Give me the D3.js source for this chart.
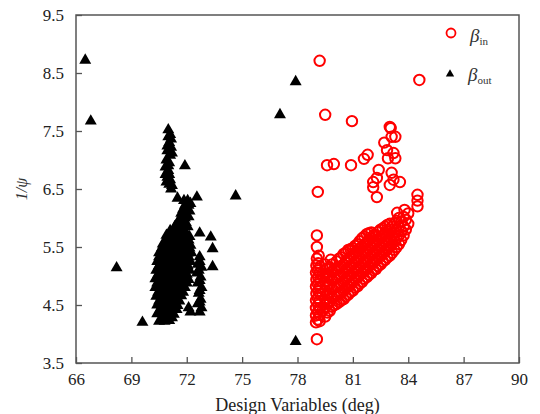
<!DOCTYPE html>
<html>
<head>
<meta charset="utf-8">
<script src="https://cdn.jsdelivr.net/npm/d3@7"></script>
<style>
  body { margin: 0; background: #fff; }
  svg { display: block; font-family: "Liberation Serif", "Times New Roman", serif; }
</style>
</head>
<body>
<script>
// tick values
var xTicks = [66, 69, 72, 75, 78, 81, 84, 87, 90];
var yTicks = [3.5, 4.5, 5.5, 6.5, 7.5, 8.5, 9.5];

// beta_out (black triangles), [deg, 1/psi]
var betaOut = [
  [66.5,8.72],[66.8,7.67],[68.2,5.14],[69.6,4.2],[71.9,6.9],[74.65,6.38],[77.05,7.78],[77.9,8.35],[77.9,3.87],
  [72.7,5.74],[73.3,5.67],[73.4,5.47],[73.4,5.16],[71.5,6.34],[72.55,6.36],
  // upper spike
  [71.0,7.52],[71.1,7.44],[71.15,7.36],[71.05,7.3],[71.15,7.22],[70.95,7.16],[71.1,7.08],[70.9,7.0],
  [71.05,6.95],[70.85,6.88],[71.0,6.82],[70.85,6.75],[70.95,6.7],[71.1,6.66],[70.9,6.62],[71.05,6.58],
  [71.2,6.56],[71.15,6.5],[71.0,7.4],[71.2,7.12],[70.95,7.24],[71.0,6.9],[71.05,6.75],
  // main cluster
  [71.85,6.3],[72.05,6.3],[72.2,6.25],[71.8,6.15],[72.0,6.15],[72.15,6.12],[71.65,6.0],[71.9,6.0],[72.1,6.02],
  [71.9,6.22],[72.1,6.22],[71.7,6.08],[71.95,6.08],[71.5,5.92],[71.75,5.92],[71.95,5.92],
  [71.35,5.85],[71.6,5.85],[71.85,5.86],[72.05,5.85],
  [71.1,5.78],[71.35,5.78],[71.6,5.78],[71.9,5.78],
  [70.9,5.7],[71.2,5.7],[71.45,5.72],[71.7,5.7],[71.95,5.7],[72.15,5.68],
  [70.85,5.62],[71.1,5.62],[71.35,5.62],[71.6,5.62],[71.85,5.62],[72.1,5.62],
  [70.7,5.55],[70.95,5.56],[71.2,5.55],[71.5,5.54],[71.75,5.56],[72.0,5.55],[72.2,5.53],
  [70.65,5.48],[70.9,5.48],[71.15,5.48],[71.4,5.48],[71.65,5.48],[71.9,5.48],[72.15,5.48],
  [70.5,5.4],[70.8,5.42],[71.05,5.4],[71.3,5.4],[71.55,5.41],[71.8,5.4],[72.05,5.39],[72.25,5.4],
  [70.5,5.33],[70.75,5.33],[71.0,5.33],[71.3,5.33],[71.55,5.33],[71.8,5.33],[72.1,5.33],
  [70.4,5.25],[70.65,5.26],[70.9,5.24],[71.2,5.25],[71.45,5.26],[71.7,5.25],[71.95,5.24],[72.2,5.25],
  [70.5,5.18],[70.75,5.18],[71.0,5.18],[71.3,5.18],[71.55,5.18],[71.8,5.18],[72.05,5.18],
  [70.35,5.1],[70.6,5.1],[70.85,5.11],[71.1,5.1],[71.4,5.09],[71.65,5.1],[71.9,5.11],[72.15,5.1],
  [70.45,5.03],[70.7,5.03],[70.95,5.03],[71.2,5.03],[71.5,5.03],[71.75,5.03],[72.0,5.03],
  [70.3,4.95],[70.55,4.96],[70.8,4.95],[71.05,4.94],[71.3,4.95],[71.6,4.96],[71.85,4.95],[72.1,4.94],
  [70.4,4.88],[70.7,4.88],[70.95,4.88],[71.2,4.88],[71.5,4.88],[71.75,4.88],[72.0,4.88],
  [70.3,4.8],[70.55,4.8],[70.85,4.81],[71.1,4.8],[71.35,4.79],[71.6,4.8],[71.9,4.8],
  [70.45,4.72],[70.75,4.72],[71.0,4.72],[71.3,4.72],[71.55,4.72],[71.8,4.72],
  [70.35,4.65],[70.6,4.66],[70.9,4.65],[71.15,4.64],[71.4,4.65],[71.7,4.66],
  [70.5,4.57],[70.8,4.57],[71.05,4.57],[71.35,4.57],[71.6,4.57],
  [70.4,4.5],[70.65,4.5],[70.95,4.51],[71.2,4.5],[71.5,4.49],
  [70.55,4.42],[70.85,4.42],[71.15,4.42],[71.45,4.42],
  [70.4,4.35],[70.7,4.36],[71.0,4.35],[71.3,4.34],
  [70.65,4.28],[70.95,4.28],[71.2,4.28],
  [70.5,4.22],[70.8,4.22],[71.05,4.23],
  // right sub-column
  [72.7,5.33],[72.6,5.2],[72.8,5.15],[72.55,5.05],[72.75,4.98],[72.6,4.88],[72.8,4.8],[72.65,4.7],
  [72.75,4.6],[72.6,4.52],[72.8,4.45],[72.7,4.38],[72.2,4.38],[72.1,4.45],
  [72.7,5.25],[72.65,5.1],[72.7,4.92],[72.7,4.75],[72.7,4.55]
];

// beta_in (red circles), [deg, 1/psi]
var betaIn = [
  [79.2,8.71],[79.5,7.78],[80.95,7.67],[84.6,8.38],[79.1,6.45],[79.05,3.91],[79.05,5.7],[79.05,5.5],
  [79.6,6.91],[79.97,6.93],[80.9,6.91],[81.6,7.02],[81.8,7.09],
  [83.0,7.57],[83.1,7.4],[82.7,7.3],[83.3,7.4],[82.85,7.17],[83.2,7.12],[83.3,7.03],[82.9,7.03],[83.05,7.55],
  [82.4,6.83],[82.3,6.69],[82.1,6.62],[82.1,6.53],[82.3,6.36],[83.1,6.78],[83.2,6.66],[83.0,6.57],[83.55,6.62],
  [84.5,6.4],[84.5,6.3],[84.5,6.2],[83.8,6.14],[83.4,6.09],
  // column near 79
  [79.0,4.2],[79.1,4.25],[79.2,4.22],[79.0,4.32],[79.1,4.38],[79.2,4.33],[79.0,4.45],[79.12,4.5],[79.22,4.45],
  [79.0,4.58],[79.1,4.62],[79.2,4.57],[79.02,4.7],[79.12,4.74],[79.22,4.69],[79.0,4.82],[79.1,4.86],[79.2,4.8],
  [79.02,4.94],[79.12,4.98],[79.22,4.92],[79.0,5.06],[79.1,5.1],[79.2,5.05],[79.02,5.18],[79.12,5.22],
  [79.22,5.16],[79.05,5.3],[79.15,5.35],[79.35,4.4],[79.35,4.7],[79.35,5.0],
  // rising band
  [79.5,4.3],[79.5,4.45],[79.5,4.6],[79.5,4.75],[79.5,4.9],[79.5,5.05],[79.5,5.2],
  [79.62,4.37],[79.62,4.52],[79.62,4.67],[79.62,4.82],[79.62,4.97],[79.62,5.12],
  [79.75,4.4],[79.75,4.55],[79.75,4.7],[79.75,4.85],[79.75,5.0],[79.75,5.15],[79.8,5.28],
  [79.87,4.47],[79.87,4.62],[79.87,4.77],[79.87,4.92],[79.87,5.07],[79.87,5.2],
  [80.0,4.5],[80.0,4.65],[80.0,4.8],[80.0,4.95],[80.0,5.1],
  [80.12,4.52],[80.12,4.67],[80.12,4.82],[80.12,4.97],[80.12,5.12],[80.12,5.25],
  [80.25,4.55],[80.25,4.7],[80.25,4.85],[80.25,5.0],[80.25,5.15],[80.25,5.3],
  [80.37,4.58],[80.37,4.72],[80.37,4.87],[80.37,5.02],[80.37,5.17],[80.37,5.32],
  [80.5,4.6],[80.5,4.75],[80.5,4.9],[80.5,5.05],[80.5,5.2],[80.5,5.38],
  [80.62,4.65],[80.62,4.8],[80.62,4.95],[80.62,5.1],[80.62,5.25],[80.62,5.4],
  [80.75,4.68],[80.75,4.82],[80.75,4.98],[80.75,5.12],[80.75,5.28],[80.75,5.45],
  [80.87,4.72],[80.87,4.87],[80.87,5.02],[80.87,5.17],[80.87,5.32],[80.87,5.46],
  [81.0,4.75],[81.0,4.9],[81.0,5.05],[81.0,5.2],[81.0,5.35],[81.0,5.48],
  [81.12,4.8],[81.12,4.95],[81.12,5.1],[81.12,5.25],[81.12,5.4],[81.12,5.52],
  [81.25,4.82],[81.25,4.97],[81.25,5.12],[81.25,5.27],[81.25,5.42],[81.25,5.55],
  [81.37,4.87],[81.37,5.02],[81.37,5.17],[81.37,5.32],[81.37,5.47],[81.37,5.6],
  [81.5,4.9],[81.5,5.05],[81.5,5.2],[81.5,5.35],[81.5,5.5],[81.5,5.65],
  [81.62,4.95],[81.62,5.1],[81.62,5.25],[81.62,5.4],[81.62,5.55],[81.62,5.68],
  [81.75,4.98],[81.75,5.12],[81.75,5.27],[81.75,5.42],[81.75,5.57],[81.75,5.72],
  [81.87,5.02],[81.87,5.17],[81.87,5.32],[81.87,5.47],[81.87,5.62],[81.87,5.74],
  [82.0,5.05],[82.0,5.2],[82.0,5.35],[82.0,5.5],[82.0,5.65],[82.0,5.75],
  [82.12,5.1],[82.12,5.25],[82.12,5.4],[82.12,5.55],[82.12,5.7],
  [82.25,5.12],[82.25,5.27],[82.25,5.42],[82.25,5.57],[82.25,5.7],
  [82.37,5.17],[82.37,5.32],[82.37,5.47],[82.37,5.62],[82.37,5.76],
  [82.5,5.2],[82.5,5.35],[82.5,5.5],[82.5,5.65],[82.5,5.8],
  [82.62,5.25],[82.62,5.4],[82.62,5.55],[82.62,5.7],[82.62,5.82],
  [82.75,5.28],[82.75,5.42],[82.75,5.57],[82.75,5.72],[82.75,5.85],
  [82.87,5.32],[82.87,5.47],[82.87,5.62],[82.87,5.77],[82.87,5.88],
  [83.0,5.35],[83.0,5.5],[83.0,5.65],[83.0,5.8],[83.0,5.9],
  [83.12,5.4],[83.12,5.55],[83.12,5.7],[83.12,5.85],
  [83.25,5.45],[83.25,5.6],[83.25,5.75],[83.25,5.9],
  [83.37,5.5],[83.37,5.65],[83.37,5.8],[83.37,5.95],
  [83.5,5.55],[83.5,5.7],[83.5,5.85],[83.5,6.0],
  [83.62,5.62],[83.62,5.77],[83.62,5.93],
  [83.75,5.7],[83.75,5.85],[83.75,6.02],
  [83.87,5.8],[83.87,5.97],
  [84.0,5.9],[84.0,6.08]
];

var W = 540, H = 414;
var margin = {left: 76, right: 21, top: 15, bottom: 51};

var svg = d3.select("body").append("svg").attr("width", W).attr("height", H);

var x = d3.scaleLinear().domain([66, 90]).range([margin.left, W - margin.right]);
var y = d3.scaleLinear().domain([3.5, 9.5]).range([H - margin.bottom, margin.top]);

// axes with inside ticks
var xAxis = svg.append("g")
  .attr("transform", "translate(0," + (H - margin.bottom) + ")")
  .call(d3.axisBottom(x).tickValues(xTicks).tickSize(-6).tickPadding(10).tickFormat(d3.format("d")));
var yAxis = svg.append("g")
  .attr("transform", "translate(" + margin.left + ",0)")
  .call(d3.axisLeft(y).tickValues(yTicks).tickSize(-6).tickPadding(12).tickFormat(d3.format(".1f")));

[xAxis, yAxis].forEach(function(g){
  g.select(".domain").remove();
  g.selectAll(".tick line").attr("stroke", "#555").attr("stroke-width", 1.3);
  g.selectAll(".tick text").attr("font-size", 17).attr("fill", "#222")
    .attr("font-family", "Liberation Serif, serif");
});

// frame
svg.append("rect")
  .attr("x", margin.left).attr("y", margin.top)
  .attr("width", W - margin.left - margin.right)
  .attr("height", H - margin.top - margin.bottom)
  .attr("fill", "none").attr("stroke", "#555").attr("stroke-width", 1.5);

// points
var tri = d3.symbol().type(d3.symbolTriangle).size(62);
svg.append("g").selectAll("path")
  .data(betaOut)
  .enter().append("path")
    .attr("d", tri)
    .attr("transform", function(d){ return "translate(" + x(d[0]) + "," + y(d[1]) + ")"; })
    .attr("fill", "#000");

svg.append("g").selectAll("circle")
  .data(betaIn)
  .enter().append("circle")
    .attr("cx", function(d){ return x(d[0]); })
    .attr("cy", function(d){ return y(d[1]); })
    .attr("r", 5.2)
    .attr("fill", "none")
    .attr("stroke", "#f00")
    .attr("stroke-width", 2);

// legend
svg.append("circle").attr("cx", 451).attr("cy", 33).attr("r", 4.5)
  .attr("fill", "none").attr("stroke", "#f00").attr("stroke-width", 1.8);
svg.append("path").attr("d", d3.symbol().type(d3.symbolTriangle).size(30))
  .attr("transform", "translate(450,74)").attr("fill", "#000");

var l1 = svg.append("text").attr("x", 470).attr("y", 42).attr("fill", "#333").attr("font-size", 19);
l1.append("tspan").attr("font-style", "italic").text("β");
l1.append("tspan").attr("font-size", 11).attr("dy", 3).text("in");
var l2 = svg.append("text").attr("x", 468).attr("y", 81).attr("fill", "#333").attr("font-size", 19);
l2.append("tspan").attr("font-style", "italic").text("β");
l2.append("tspan").attr("font-size", 11).attr("dy", 3).text("out");

// axis titles
svg.append("text")
  .attr("x", (margin.left + W - margin.right) / 2)
  .attr("y", 411)
  .attr("text-anchor", "middle")
  .attr("font-size", 18).attr("fill", "#222")
  .text("Design Variables (deg)");

svg.append("text")
  .attr("transform", "translate(27," + y(6.5) + ") rotate(-90)")
  .attr("text-anchor", "middle")
  .attr("font-size", 16).attr("font-style", "italic").attr("fill", "#333")
  .text("1/ψ");
</script>
</body>
</html>
